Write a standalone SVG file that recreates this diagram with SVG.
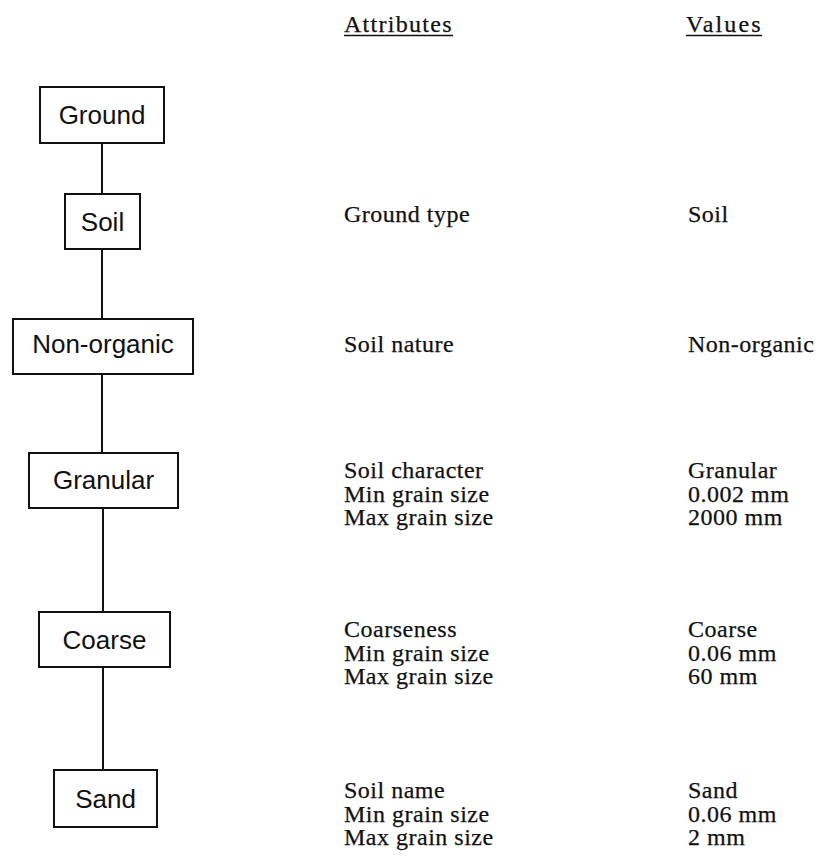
<svg xmlns="http://www.w3.org/2000/svg" width="828" height="868" viewBox="0 0 828 868">
  <style>
    .box { fill: #ffffff; stroke: #111111; stroke-width: 2; }
    .node-label { font-family: "Liberation Sans", Arial, sans-serif; font-size: 26px; fill: #111111; text-anchor: middle; }
    .col { font-family: "Liberation Serif", "Times New Roman", serif; font-size: 24px; letter-spacing: 0.5px; fill: #111111; stroke: #111111; stroke-width: 0.25; }
    .link { stroke: #111111; stroke-width: 2; fill: none; }
    .rule { stroke: #111111; stroke-width: 1.6; }
  </style>
  <rect width="828" height="868" fill="#ffffff"/>

  <!-- column headings -->
  <g id="headings">
    <text class="col" x="344" y="32" textLength="108" lengthAdjust="spacing">Attributes</text>
    <line class="rule" x1="344" y1="35.5" x2="453" y2="35.5"/>
    <text class="col" x="686" y="32" textLength="75" lengthAdjust="spacing">Values</text>
    <line class="rule" x1="686" y1="35.5" x2="762" y2="35.5"/>
  </g>

  <!-- connectors -->
  <g id="connectors">
    <line class="link" x1="102" y1="143" x2="102" y2="194"/>
    <line class="link" x1="102" y1="249" x2="102" y2="319"/>
    <line class="link" x1="102" y1="374" x2="102" y2="453"/>
    <line class="link" x1="103" y1="508" x2="103" y2="612"/>
    <line class="link" x1="103" y1="667" x2="103" y2="770"/>
  </g>

  <!-- hierarchy nodes -->
  <g id="node-ground">
    <rect class="box" x="40" y="87" width="124" height="56"/>
    <text class="node-label" x="102" y="124">Ground</text>
  </g>
  <g id="node-soil">
    <rect class="box" x="65" y="194" width="75" height="55"/>
    <text class="node-label" x="102.5" y="231">Soil</text>
  </g>
  <g id="node-nonorganic">
    <rect class="box" x="13" y="319" width="180" height="55"/>
    <text class="node-label" x="103" y="353">Non-organic</text>
  </g>
  <g id="node-granular">
    <rect class="box" x="29" y="453" width="149" height="55"/>
    <text class="node-label" x="103.5" y="489">Granular</text>
  </g>
  <g id="node-coarse">
    <rect class="box" x="39" y="612" width="131" height="55"/>
    <text class="node-label" x="104.5" y="649">Coarse</text>
  </g>
  <g id="node-sand">
    <rect class="box" x="54" y="770" width="103" height="57"/>
    <text class="node-label" x="105.5" y="808">Sand</text>
  </g>

  <!-- attribute / value rows -->
  <g id="rows-soil">
    <text class="col" x="344" y="222">Ground type</text>
    <text class="col" x="688" y="222">Soil</text>
  </g>
  <g id="rows-nonorganic">
    <text class="col" x="344" y="352">Soil nature</text>
    <text class="col" x="688" y="352">Non-organic</text>
  </g>
  <g id="rows-granular">
    <text class="col" x="344" y="478">Soil character</text>
    <text class="col" x="344" y="501.5">Min grain size</text>
    <text class="col" x="344" y="525">Max grain size</text>
    <text class="col" x="688" y="478">Granular</text>
    <text class="col" x="688" y="501.5">0.002 mm</text>
    <text class="col" x="688" y="525">2000 mm</text>
  </g>
  <g id="rows-coarse">
    <text class="col" x="344" y="637">Coarseness</text>
    <text class="col" x="344" y="660.5">Min grain size</text>
    <text class="col" x="344" y="684">Max grain size</text>
    <text class="col" x="688" y="637">Coarse</text>
    <text class="col" x="688" y="660.5">0.06 mm</text>
    <text class="col" x="688" y="684">60 mm</text>
  </g>
  <g id="rows-sand">
    <text class="col" x="344" y="798">Soil name</text>
    <text class="col" x="344" y="821.5">Min grain size</text>
    <text class="col" x="344" y="845">Max grain size</text>
    <text class="col" x="688" y="798">Sand</text>
    <text class="col" x="688" y="821.5">0.06 mm</text>
    <text class="col" x="688" y="845">2 mm</text>
  </g>
</svg>
